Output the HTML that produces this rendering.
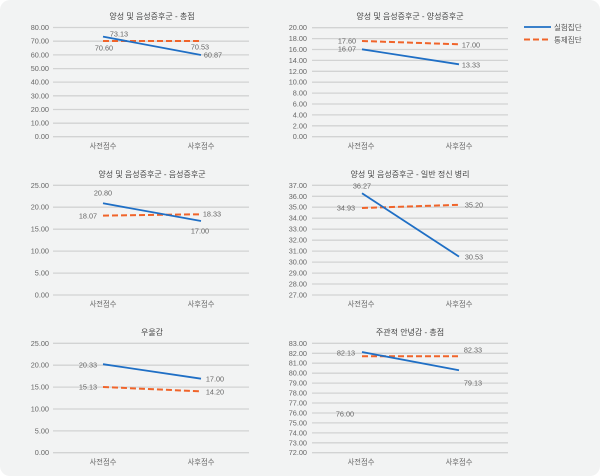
<!DOCTYPE html>
<html><head><meta charset="utf-8"><style>
html,body{margin:0;padding:0;background:#fff;}
svg{display:block;}
text{font-family:"Liberation Sans","Noto Sans CJK KR",sans-serif;}
.t{font-size:7.3px;fill:#666;}
.ttl{font-size:8px;fill:#444;text-anchor:middle;}
.g{stroke:#d2d3d3;stroke-width:1.3;}
.b{stroke:#1f6fc5;stroke-width:1.8;fill:none;}
.o{stroke:#f0642a;stroke-width:2;stroke-dasharray:6,3;fill:none;}
.r{text-anchor:end;}
.m{text-anchor:middle;}
</style></head><body>
<svg width="600" height="476" viewBox="0 0 600 476" xmlns="http://www.w3.org/2000/svg">
<rect x="0" y="0" width="600" height="476" rx="10" ry="10" fill="#f2f3f3"/>

<!-- Panel 1 -->
<text class="ttl" x="152" y="19">양성 및 음성증후군 - 총점</text>
<g class="g">
<line x1="53" x2="249" y1="27.5" y2="27.5"/><line x1="53" x2="249" y1="41.2" y2="41.2"/><line x1="53" x2="249" y1="54.9" y2="54.9"/><line x1="53" x2="249" y1="68.6" y2="68.6"/><line x1="53" x2="249" y1="82.1" y2="82.1"/><line x1="53" x2="249" y1="95.8" y2="95.8"/><line x1="53" x2="249" y1="109.5" y2="109.5"/><line x1="53" x2="249" y1="123.2" y2="123.2"/><line x1="53" x2="249" y1="136.7" y2="136.7"/>
</g>
<g class="t r">
<text x="49" y="30">80.00</text><text x="49" y="43.7">70.00</text><text x="49" y="57.4">60.00</text><text x="49" y="71.1">50.00</text><text x="49" y="84.6">40.00</text><text x="49" y="98.3">30.00</text><text x="49" y="112">20.00</text><text x="49" y="125.7">10.00</text><text x="49" y="139.2">0.00</text>
</g>
<g class="t m"><text x="103" y="148.5">사전점수</text><text x="201" y="148.5">사후점수</text></g>
<line class="o" x1="103" y1="41" x2="200" y2="41"/>
<line class="b" x1="103" y1="36.6" x2="201" y2="55"/>
<g class="t m"><text x="119" y="36.5">73.13</text><text x="104" y="50.5">70.60</text><text x="200" y="49.5">70.53</text><text x="213" y="57.5">60.87</text></g>

<!-- Panel 2 -->
<text class="ttl" x="410" y="19">양성 및 음성증후군 - 양성증후군</text>
<g class="g">
<line x1="312" x2="508" y1="27.7" y2="27.7"/><line x1="312" x2="508" y1="38.6" y2="38.6"/><line x1="312" x2="508" y1="49.5" y2="49.5"/><line x1="312" x2="508" y1="60.4" y2="60.4"/><line x1="312" x2="508" y1="71.3" y2="71.3"/><line x1="312" x2="508" y1="82.2" y2="82.2"/><line x1="312" x2="508" y1="93.1" y2="93.1"/><line x1="312" x2="508" y1="104" y2="104"/><line x1="312" x2="508" y1="114.9" y2="114.9"/><line x1="312" x2="508" y1="125.8" y2="125.8"/><line x1="312" x2="508" y1="136.7" y2="136.7"/>
</g>
<g class="t r">
<text x="307" y="30.2">20.00</text><text x="307" y="41.1">18.00</text><text x="307" y="52">16.00</text><text x="307" y="62.9">14.00</text><text x="307" y="73.8">12.00</text><text x="307" y="84.7">10.00</text><text x="307" y="95.6">8.00</text><text x="307" y="106.5">6.00</text><text x="307" y="117.4">4.00</text><text x="307" y="128.3">2.00</text><text x="307" y="139.2">0.00</text>
</g>
<g class="t m"><text x="361" y="148.5">사전점수</text><text x="459" y="148.5">사후점수</text></g>
<line class="o" x1="362" y1="41" x2="459" y2="44.3"/>
<line class="b" x1="362" y1="49.3" x2="459" y2="64.3"/>
<g class="t m"><text x="347" y="43.5">17.60</text><text x="347" y="51.5">16.07</text><text x="471" y="47.5">17.00</text><text x="471" y="67.5">13.33</text></g>

<!-- Legend -->
<line x1="524" y1="27" x2="551" y2="27" stroke="#1f6fc5" stroke-width="1.8"/>
<text class="t" x="554" y="29.8" style="font-size:7.5px;fill:#555">실험집단</text>
<line x1="524" y1="39.5" x2="551" y2="39.5" stroke="#f0642a" stroke-width="2" stroke-dasharray="6,3"/>
<text class="t" x="554" y="42.3" style="font-size:7.5px;fill:#555">통제집단</text>

<!-- Panel 3 -->
<text class="ttl" x="152" y="177">양성 및 음성증후군 - 음성증후군</text>
<g class="g">
<line x1="53" x2="249" y1="185.3" y2="185.3"/><line x1="53" x2="249" y1="207.2" y2="207.2"/><line x1="53" x2="249" y1="229.2" y2="229.2"/><line x1="53" x2="249" y1="251.1" y2="251.1"/><line x1="53" x2="249" y1="273.1" y2="273.1"/><line x1="53" x2="249" y1="295" y2="295"/>
</g>
<g class="t r">
<text x="49" y="187.8">25.00</text><text x="49" y="209.7">20.00</text><text x="49" y="231.7">15.00</text><text x="49" y="253.6">10.00</text><text x="49" y="275.6">5.00</text><text x="49" y="297.5">0.00</text>
</g>
<g class="t m"><text x="103" y="306.5">사전점수</text><text x="201" y="306.5">사후점수</text></g>
<line class="o" x1="103" y1="215.6" x2="200" y2="214.3"/>
<line class="b" x1="103" y1="203.3" x2="201" y2="221"/>
<g class="t m"><text x="103" y="195.5">20.80</text><text x="88" y="218.5">18.07</text><text x="212" y="216.5">18.33</text><text x="200" y="233.5">17.00</text></g>

<!-- Panel 4 -->
<text class="ttl" x="410" y="177">양성 및 음성증후군 - 일반 정신 병리</text>
<g class="g">
<line x1="312" x2="508" y1="185.3" y2="185.3"/><line x1="312" x2="508" y1="196.3" y2="196.3"/><line x1="312" x2="508" y1="207.2" y2="207.2"/><line x1="312" x2="508" y1="218.2" y2="218.2"/><line x1="312" x2="508" y1="229.2" y2="229.2"/><line x1="312" x2="508" y1="240.2" y2="240.2"/><line x1="312" x2="508" y1="251.1" y2="251.1"/><line x1="312" x2="508" y1="262.1" y2="262.1"/><line x1="312" x2="508" y1="273.1" y2="273.1"/><line x1="312" x2="508" y1="284" y2="284"/><line x1="312" x2="508" y1="295" y2="295"/>
</g>
<g class="t r">
<text x="307" y="187.8">37.00</text><text x="307" y="198.8">36.00</text><text x="307" y="209.7">35.00</text><text x="307" y="220.7">34.00</text><text x="307" y="231.7">33.00</text><text x="307" y="242.7">32.00</text><text x="307" y="253.6">31.00</text><text x="307" y="264.6">30.00</text><text x="307" y="275.6">29.00</text><text x="307" y="286.5">28.00</text><text x="307" y="297.5">27.00</text>
</g>
<g class="t m"><text x="361" y="306.5">사전점수</text><text x="459" y="306.5">사후점수</text></g>
<line class="o" x1="362" y1="208" x2="459" y2="204.8"/>
<line class="b" x1="362" y1="193.3" x2="459" y2="256.6"/>
<g class="t m"><text x="362" y="188.5">36.27</text><text x="346" y="210.5">34.93</text><text x="474" y="207.5">35.20</text><text x="474" y="259.5">30.53</text></g>

<!-- Panel 5 -->
<text class="ttl" x="152" y="335">우울감</text>
<g class="g">
<line x1="53" x2="249" y1="343.3" y2="343.3"/><line x1="53" x2="249" y1="365.2" y2="365.2"/><line x1="53" x2="249" y1="387.1" y2="387.1"/><line x1="53" x2="249" y1="409" y2="409"/><line x1="53" x2="249" y1="430.9" y2="430.9"/><line x1="53" x2="249" y1="452.7" y2="452.7"/>
</g>
<g class="t r">
<text x="49" y="345.8">25.00</text><text x="49" y="367.7">20.00</text><text x="49" y="389.6">15.00</text><text x="49" y="411.5">10.00</text><text x="49" y="433.4">5.00</text><text x="49" y="455.2">0.00</text>
</g>
<g class="t m"><text x="103" y="464.5">사전점수</text><text x="201" y="464.5">사후점수</text></g>
<line class="o" x1="103" y1="387" x2="200" y2="391.3"/>
<line class="b" x1="103" y1="364.2" x2="201" y2="378.7"/>
<g class="t m"><text x="88" y="367.5">20.33</text><text x="88" y="389.5">15.13</text><text x="215" y="381.5">17.00</text><text x="215" y="394.5">14.20</text></g>

<!-- Panel 6 -->
<text class="ttl" x="410" y="335">주관적 안녕감 - 총점</text>
<g class="g">
<line x1="312" x2="508" y1="343.3" y2="343.3"/><line x1="312" x2="508" y1="353.3" y2="353.3"/><line x1="312" x2="508" y1="363.2" y2="363.2"/><line x1="312" x2="508" y1="373.2" y2="373.2"/><line x1="312" x2="508" y1="383.1" y2="383.1"/><line x1="312" x2="508" y1="393.1" y2="393.1"/><line x1="312" x2="508" y1="403" y2="403"/><line x1="312" x2="508" y1="413" y2="413"/><line x1="312" x2="508" y1="422.9" y2="422.9"/><line x1="312" x2="508" y1="432.9" y2="432.9"/><line x1="312" x2="508" y1="442.8" y2="442.8"/><line x1="312" x2="508" y1="452.7" y2="452.7"/>
</g>
<g class="t r">
<text x="307" y="345.8">83.00</text><text x="307" y="355.8">82.00</text><text x="307" y="365.7">81.00</text><text x="307" y="375.7">80.00</text><text x="307" y="385.6">79.00</text><text x="307" y="395.6">78.00</text><text x="307" y="405.5">77.00</text><text x="307" y="415.5">76.00</text><text x="307" y="425.4">75.00</text><text x="307" y="435.4">74.00</text><text x="307" y="445.3">73.00</text><text x="307" y="455.2">72.00</text>
</g>
<g class="t m"><text x="361" y="464.5">사전점수</text><text x="459" y="464.5">사후점수</text></g>
<line class="o" x1="362" y1="356.3" x2="459" y2="356.3"/>
<line class="b" x1="362" y1="352" x2="459" y2="370.3"/>
<g class="t m"><text x="346" y="355.5">82.13</text><text x="345" y="416.5">76.00</text><text x="473" y="352.5">82.33</text><text x="473" y="385.5">79.13</text></g>
</svg>
</body></html>
